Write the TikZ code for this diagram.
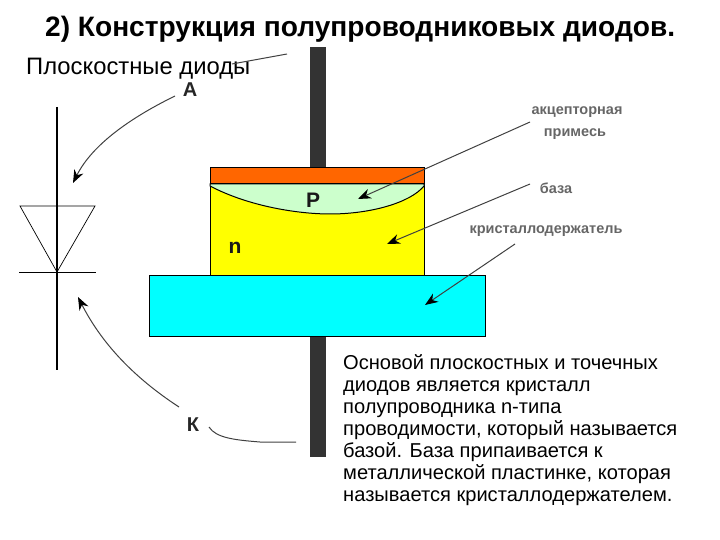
\documentclass[tikz,border=0pt]{standalone}
\usepackage{fontspec}
\setmainfont{Liberation Sans}
\usetikzlibrary{calc, positioning}
\usetikzlibrary{arrows.meta}
\definecolor{capcol}{RGB}{255,102,0}
\definecolor{pcol}{RGB}{204,255,204}
\definecolor{ncol}{RGB}{255,255,0}
\definecolor{holdcol}{RGB}{0,255,255}

\begin{document}
\begin{tikzpicture}[x=1pt,y=-1pt,
  leader/.style={draw=black!75, line width=1pt},
  pointer/.style={leader, -{Stealth[length=13pt,width=10pt,color=black]}},
  mark label/.style={font=\fontsize{20}{24}\bfseries, text=black!85, inner sep=1pt},
  small label/.style={font=\fontsize{14.5}{17}\bfseries, text=black!60, inner sep=1pt},
  part label/.style={font=\fontsize{21}{25}\bfseries, text=black!90, inner sep=1pt}]
\def\barL{310}
\def\barR{326}
\def\cryL{210}
\def\cryR{424}
\useasboundingbox (0,0) rectangle (720,540);

\coordinate (LeadTop) at (\barL,47);
\coordinate (LeadEnd) at (\barR,457);
\coordinate (Cap) at (\cryL,168);
\coordinate (CapEnd) at (\cryR,184);
\coordinate (Holder) at (149,275);
\coordinate (HolderEnd) at (485,336);

% lead behind the crystal
\fill[black!80] (LeadTop) rectangle (LeadEnd);

% base and holder
\draw[fill=ncol, line width=1pt] (\cryL,184) rectangle (\cryR,275);
\draw[fill=pcol, line width=1pt] (\cryL,186)
  .. controls (250,207) and (300,214) .. (330,214)
  .. controls (370,214) and (410,203) .. (\cryR,186)
  -- (\cryR,184) -- (\cryL,184) -- cycle;
\draw[fill=capcol, line width=1pt] (Cap) rectangle (CapEnd);
\draw[fill=holdcol, line width=1pt] (Holder) rectangle (HolderEnd);

% diode symbol
\coordinate (DiodeTop) at (57,107);
\coordinate (DiodeEnd) at (57,370);
\coordinate (TriL) at (20,206);
\coordinate (TriR) at (95,206);
\coordinate (Apex) at (57,272);
\coordinate (BarL) at (19,272);
\coordinate (BarR) at (96,272);
\draw[line width=1.1pt] (DiodeTop) -- (DiodeEnd);
\draw[line width=0.7pt] (TriL) -- (TriR) -- (Apex) -- cycle;
\draw[line width=0.8pt] (BarL) -- (BarR);

% texts
\node[anchor=base west, inner sep=0pt, font=\fontsize{28.1}{32}\bfseries] (Title) at (45,37)
  {2) Конструкция полупроводниковых диодов.};
\node[anchor=base west, inner sep=0pt, font=\fontsize{23.8}{28}\selectfont] (Sub) at (26,75)
  {Плоскостные диоды};
\node[anchor=north west, inner sep=0pt, align=left, font=\fontsize{20.1}{22}\selectfont] (Note) at (343,354)
  {Основой плоскостных и точечных\\
   диодов является кристалл\\
   полупроводника n-типа\\
   проводимости, который называется\\
   базой. База припаивается к\\
   металлической пластинке, которая\\
   называется кристаллодержателем.};

\node[mark label] (LabA) at (190,90) {А};
\node[mark label] (LabK) at (193,425) {К};
\node[part label] (LabP) at (313,200) {P};
\node[part label] (LabN) at (235,248) {n};
\node[small label] (LabAcc) at (577,112) {акцепторная};
\node[small label] (LabMix) at (575,134) {примесь};
\node[small label] (LabBase) at (556,188) {база};
\node[small label] (LabHold) at (546,231) {кристаллодержатель};

% leaders
\coordinate (LeadA) at (287,54);
\coordinate (StubA) at (232,64);
\coordinate (TailA) at (175,96);
\coordinate (TipA) at (73,183);
\coordinate (TipK) at (78,297);
\coordinate (TailK) at (179,407);
\coordinate (LeadK) at (296,442);
\coordinate (TailAcc) at (530,122);
\coordinate (TipAcc) at (358,199);
\coordinate (TailBase) at (530,184);
\coordinate (TipBase) at (387,244);
\coordinate (TailHold) at (515,244);
\coordinate (TipHold) at (425,305);

\draw[leader] (LeadA) -- (StubA);
\draw[pointer] (TailA) .. controls (130,118) and (92,145) .. (TipA);
\draw[pointer] (TailK) .. controls (130,375) and (100,340) .. (TipK);
\draw[leader] (LeadK) -- (260,442) .. controls (235,440) and (216,438) .. (209,427);
\draw[pointer] (TailAcc) -- (TipAcc);
\draw[pointer] (TailBase) -- (TipBase);
\draw[pointer] (TailHold) -- (TipHold);
\end{tikzpicture}
\end{document}
